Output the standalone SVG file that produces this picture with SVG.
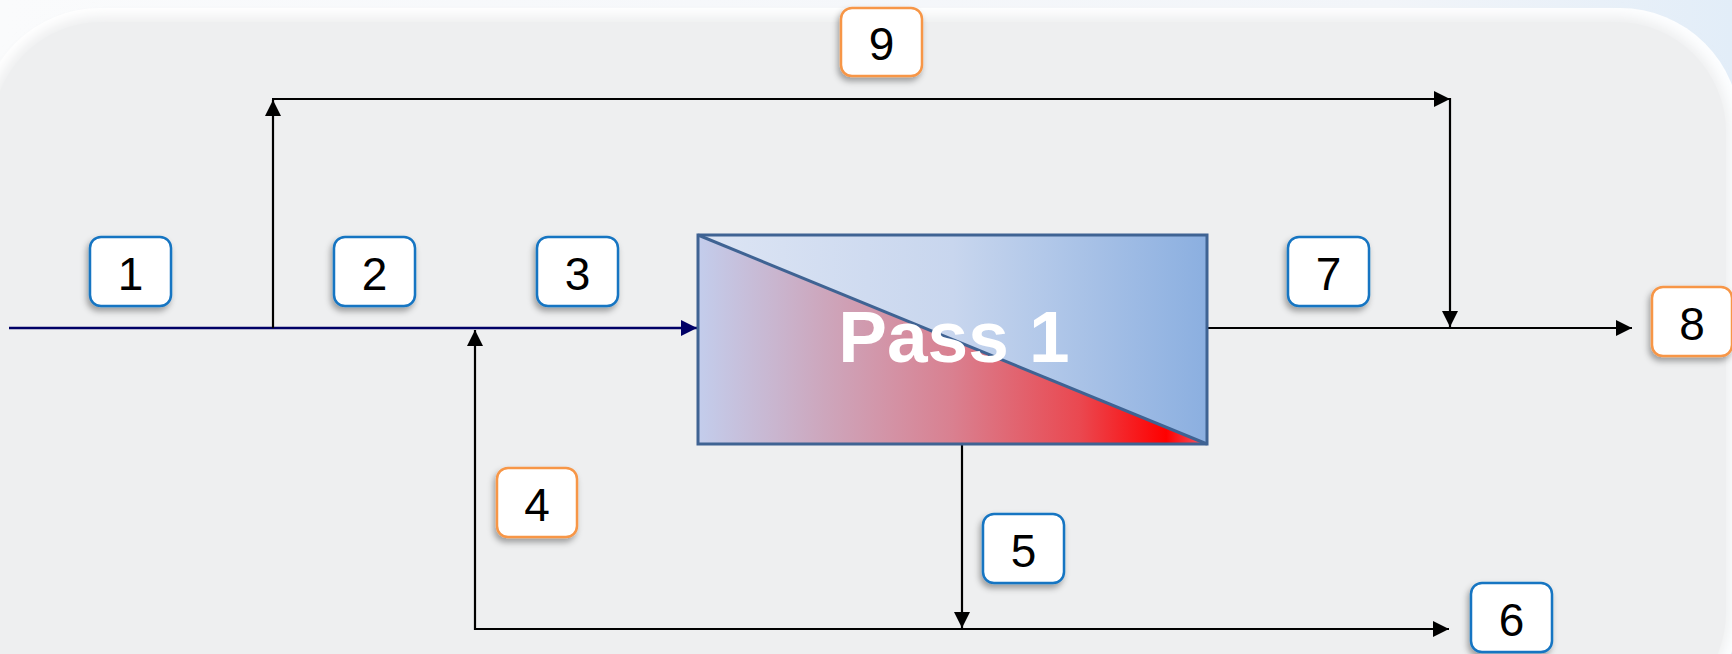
<svg xmlns="http://www.w3.org/2000/svg" width="1732" height="654" viewBox="0 0 1732 654">
  <defs>
    <style>
      .lbl rect { fill: #ffffff; stroke-width: 2.5; filter: url(#shadow); }
      .blue rect { stroke: #1675C2; }
      .orange rect { stroke: #F79646; }
      .lbl text { font-family: "Liberation Sans", Arial, sans-serif; font-size: 46px; fill: #000; text-anchor: middle; }
      .conn { fill: none; stroke: #000; stroke-width: 2.2; }
      .feed { fill: none; stroke: #000066; stroke-width: 2.6; }
    </style>
    <filter id="shadow" x="-30%" y="-30%" width="160%" height="170%">
      <feDropShadow dx="-2" dy="4" stdDeviation="3" flood-color="#000" flood-opacity="0.35"/>
    </filter>
    <filter id="glow" x="-5%" y="-5%" width="110%" height="110%">
      <feGaussianBlur stdDeviation="6"/>
    </filter>
    <marker id="ah" viewBox="0 0 10 10" refX="10" refY="5" markerWidth="16" markerHeight="16" markerUnits="userSpaceOnUse" orient="auto">
      <path d="M0,0 L10,5 L0,10 z" fill="#000"/>
    </marker>
    <marker id="ahn" viewBox="0 0 10 10" refX="10" refY="5" markerWidth="16" markerHeight="16" markerUnits="userSpaceOnUse" orient="auto">
      <path d="M0,0 L10,5 L0,10 z" fill="#000066"/>
    </marker>
    <linearGradient id="lowG" gradientUnits="userSpaceOnUse" x1="698" y1="0" x2="1207" y2="0">
      <stop offset="0" stop-color="#C3CDEC"/>
      <stop offset="0.25" stop-color="#CDA6BC"/>
      <stop offset="0.5" stop-color="#D98090"/>
      <stop offset="0.75" stop-color="#EA4850"/>
      <stop offset="0.92" stop-color="#FF0000"/>
      <stop offset="1" stop-color="#F36070"/>
    </linearGradient>
    <linearGradient id="upG" gradientUnits="userSpaceOnUse" x1="698" y1="0" x2="1207" y2="0">
      <stop offset="0" stop-color="#DDE5F4"/>
      <stop offset="0.5" stop-color="#C8D6EE"/>
      <stop offset="1" stop-color="#8BAFE0"/>
    </linearGradient>
    <linearGradient id="bgG" x1="0" y1="0" x2="1" y2="0">
      <stop offset="0" stop-color="#FAFBFC"/>
      <stop offset="0.8" stop-color="#F2F5F9"/>
      <stop offset="1" stop-color="#E2EDF8"/>
    </linearGradient>
  </defs>

  <!-- background -->
  <rect x="0" y="0" width="1732" height="654" fill="url(#bgG)"/>
  <rect x="-20" y="8" width="1760" height="720" rx="120" fill="#FFFFFF" opacity="0.9"/>
  <rect x="-14" y="16" width="1744" height="710" rx="115" fill="#EEEFF0" filter="url(#glow)"/>
  <rect x="-8" y="22" width="1734" height="700" rx="110" fill="#EEEFF0"/>

  <!-- connectors -->
  <g id="connectors">
    <line class="feed" x1="9" y1="328" x2="697" y2="328" marker-end="url(#ahn)"/>
    <line class="conn" x1="273" y1="328" x2="273" y2="100" marker-end="url(#ah)"/>
    <line class="conn" x1="272" y1="99" x2="1450" y2="99" marker-end="url(#ah)"/>
    <line class="conn" x1="1450" y1="98" x2="1450" y2="327" marker-end="url(#ah)"/>
    <line class="conn" x1="1207" y1="328" x2="1632" y2="328" marker-end="url(#ah)"/>
    <line class="conn" x1="962" y1="445" x2="962" y2="628" marker-end="url(#ah)"/>
    <line class="conn" x1="475" y1="629" x2="1449" y2="629" marker-end="url(#ah)"/>
    <line class="conn" x1="475" y1="630" x2="475" y2="330" marker-end="url(#ah)"/>
  </g>

  <!-- Pass 1 unit -->
  <g id="pass1">
    <polygon points="698,235 1207,444 698,444" fill="url(#lowG)"/>
    <polygon points="698,235 1207,235 1207,444" fill="url(#upG)"/>
    <rect x="698" y="235" width="509" height="209" fill="none" stroke="#3F6393" stroke-width="3"/>
    <line x1="698" y1="235" x2="1207" y2="444" stroke="#3F6393" stroke-width="3"/>
    <text x="954" y="362" font-family="'Liberation Sans', Arial, sans-serif" font-weight="bold" font-size="73" fill="#FFFFFF" text-anchor="middle">Pass 1</text>
  </g>

  <!-- stream labels -->
  <g id="label1" class="lbl blue"><rect x="90" y="237" width="81" height="69" rx="11"/><text x="130.5" y="290">1</text></g>
  <g id="label2" class="lbl blue"><rect x="334" y="237" width="81" height="69" rx="11"/><text x="374.5" y="290">2</text></g>
  <g id="label3" class="lbl blue"><rect x="537" y="237" width="81" height="69" rx="11"/><text x="577.5" y="290">3</text></g>
  <g id="label4" class="lbl orange"><rect x="497" y="468" width="80" height="69" rx="11"/><text x="537" y="521">4</text></g>
  <g id="label5" class="lbl blue"><rect x="983" y="514" width="81" height="69" rx="11"/><text x="1023.5" y="567">5</text></g>
  <g id="label6" class="lbl blue"><rect x="1471" y="583" width="81" height="69" rx="11"/><text x="1511.5" y="636">6</text></g>
  <g id="label7" class="lbl blue"><rect x="1288" y="237" width="81" height="69" rx="11"/><text x="1328.5" y="290">7</text></g>
  <g id="label8" class="lbl orange"><rect x="1652" y="287" width="80" height="69" rx="11"/><text x="1692" y="340">8</text></g>
  <g id="label9" class="lbl orange"><rect x="841" y="8" width="81" height="68" rx="11"/><text x="881.5" y="60">9</text></g>
</svg>
